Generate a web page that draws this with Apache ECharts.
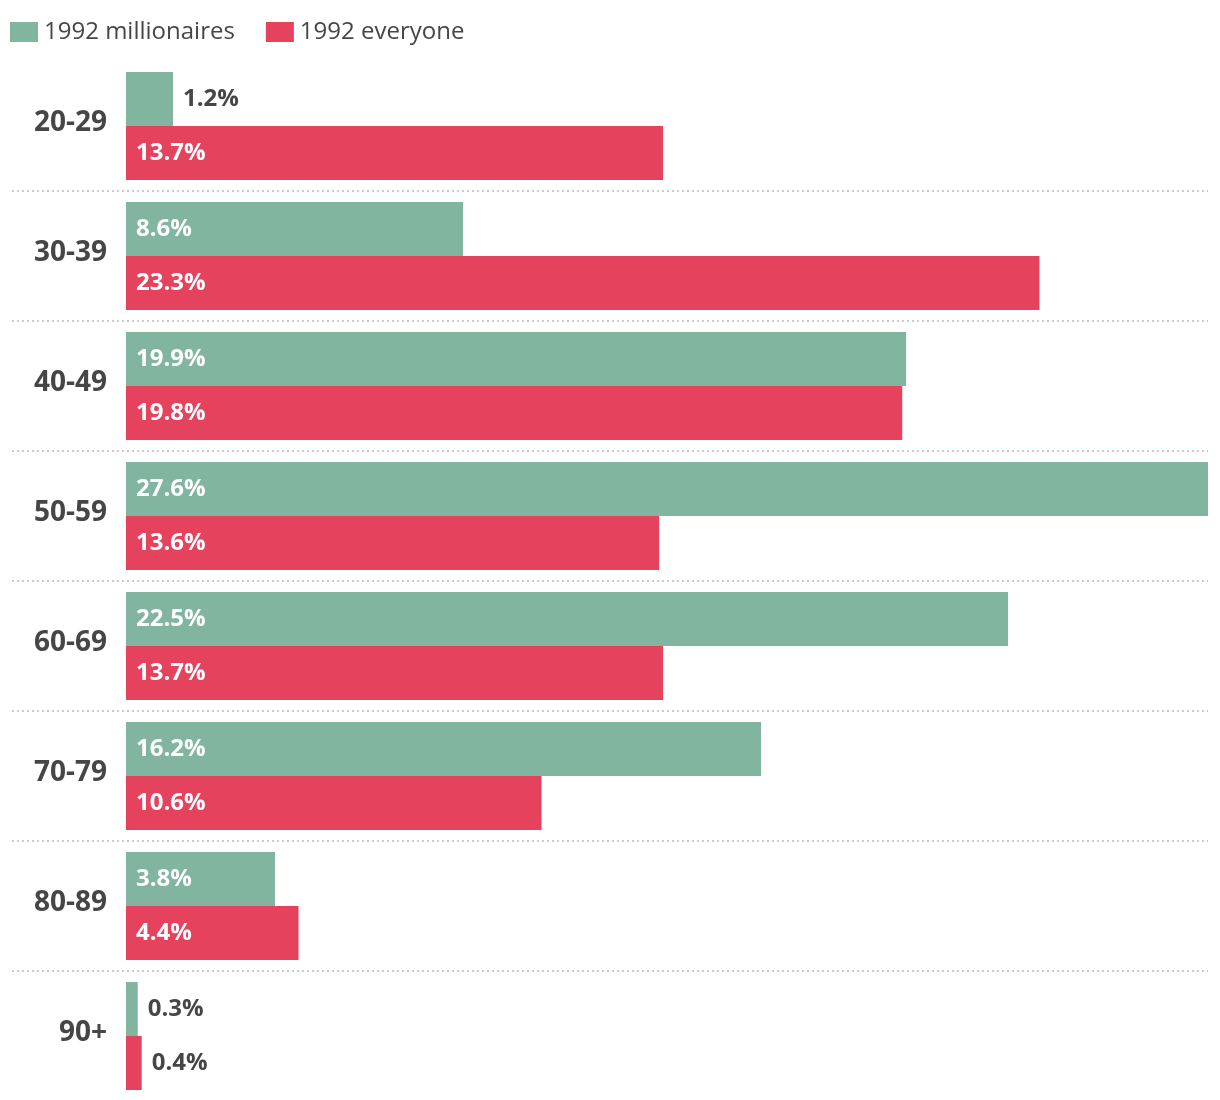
<!DOCTYPE html>
<html>
<head>
<meta charset="utf-8">
<script src="https://cdn.jsdelivr.net/npm/echarts@6/dist/echarts.min.js"></script>
<style>
html,body{margin:0;padding:0;background:#fff;}
#chart{width:1220px;height:1100px;}
</style>
</head>
<body>
<div id="chart"></div>
<script>
var categories = ['20-29', '30-39', '40-49', '50-59', '60-69', '70-79', '80-89', '90+'];
var millionaires = [1.2, 8.6, 19.9, 27.6, 22.5, 16.2, 3.8, 0.3];
var everyone = [13.7, 23.3, 19.8, 13.6, 13.7, 10.6, 4.4, 0.4];
var seriesNames = ['1992 millionaires', '1992 everyone'];

var FONT = 'Open Sans';
var GREEN = '#82b5a0';
var RED = '#e5425e';
var TEXT = '#464646';

function toData(values) {
  return values.map(function (v) {
    var small = v < 2;
    return {
      value: v,
      label: small
        ? { position: 'right', distance: 10, color: TEXT }
        : { position: 'insideLeft', distance: 10, color: '#fff' }
    };
  });
}

var labelBase = {
  show: true,
  fontFamily: FONT,
  fontWeight: 'bold',
  fontSize: 24,
  formatter: function (p) { return p.value.toFixed(1) + '%'; }
};

// separator axis has one extra (empty) band so its closing line falls off the canvas
var sepCategories = categories.concat(['']);

var chart = echarts.init(document.getElementById('chart'), null, { renderer: 'canvas' });
chart.setOption({
  animation: false,
  backgroundColor: '#fff',
  textStyle: { fontFamily: FONT },
  legend: {
    left: 10,
    top: 20,
    padding: 0,
    itemWidth: 28,
    itemHeight: 20,
    itemGap: 31,
    icon: 'rect',
    textStyle: { fontFamily: FONT, fontSize: 24, color: TEXT, padding: [0, 0, 0, 1] },
    data: seriesNames
  },
  grid: [
    { left: 126, right: 12, top: 61, height: 1040, containLabel: false, outerBoundsMode: 'none' },
    { left: 12, right: 12, top: 61, height: 1170, containLabel: false, outerBoundsMode: 'none' }
  ],
  xAxis: [
    { gridIndex: 0, type: 'value', min: 0, max: 27.6, show: false },
    { gridIndex: 1, type: 'value', min: 0, max: 1, show: false }
  ],
  yAxis: [
    {
      gridIndex: 0,
      type: 'category',
      data: categories,
      inverse: true,
      axisLine: { show: false },
      axisTick: { show: false },
      splitLine: { show: false },
      axisLabel: {
        margin: 19,
        fontFamily: FONT,
        fontSize: 28,
        fontWeight: 'bold',
        color: TEXT,
        verticalAlign: 'bottom',
        lineHeight: 6
      }
    },
    {
      gridIndex: 1,
      type: 'category',
      data: sepCategories,
      inverse: true,
      axisLine: { show: false },
      axisTick: { show: false },
      axisLabel: { show: false },
      splitLine: {
        show: true,
        interval: function (index) { return index > 0 && index < categories.length; },
        lineStyle: { color: '#cccccc', width: 2, type: [2, 3] }
      }
    }
  ],
  series: [
    {
      name: seriesNames[0],
      type: 'bar',
      xAxisIndex: 0,
      yAxisIndex: 0,
      data: toData(millionaires),
      itemStyle: { color: GREEN },
      barWidth: 54,
      barGap: '0%',
      label: labelBase
    },
    {
      name: seriesNames[1],
      type: 'bar',
      xAxisIndex: 0,
      yAxisIndex: 0,
      data: toData(everyone),
      itemStyle: { color: RED },
      barWidth: 54,
      barGap: '0%',
      label: labelBase
    }
  ]
});
</script>
</body>
</html>
